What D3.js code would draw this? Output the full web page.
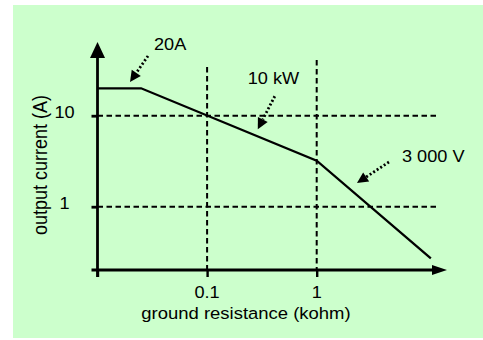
<!DOCTYPE html>
<html lang="en">
<head>
<meta charset="UTF-8">
<title>Output current vs ground resistance</title>
<script src="https://d3js.org/d3.v7.min.js"></script>
<style>
    body { margin: 0; background: #fff; }
    svg { display: block; }
    text { font-family: Arial, "Liberation Sans", sans-serif; fill: #000; }
    .grid { stroke: #000; stroke-width: 2px; stroke-dasharray: 5.5,3.5; fill: none; }
    .axis-line { stroke: #000; stroke-width: 2.8px; fill: none; }
    .curve { stroke: #000; stroke-width: 2.3px; fill: none; }
    .pointer { stroke: #000; stroke-width: 2.8px; stroke-dasharray: 2,2.2; fill: none; }
</style>
</head>
<body>
<svg width="483" height="340"></svg>
<script>
// resistance (kohm) and current (A) along the limit curve
const resistance = [0.01, 0.025, 1, 11];
const current = [20, 20, 3.2, 0.27];

const xTicks = [0.1, 1];
const xTickLabels = ["0.1", "1"];
const yTicks = [10, 1];
const yTickLabels = ["10", "1"];

const notes = ["20A", "10 kW", "3 000 V"];
const noteR = [0.0198, 0.29, 2.33];
const noteI = [23.5, 7.1, 1.82];

const svg = d3.select("svg");
svg.append("rect").attr("x", 13).attr("y", 5).attr("width", 470).attr("height", 333)
    .attr("fill", "#ccffcc");

// log scales, one decade is ~110px across and ~91px up
const x = d3.scaleLog().domain([0.01, 1]).range([97.5, 316.7]);
const y = d3.scaleLog().domain([1, 10]).range([206.7, 115.7]);

const x0 = x(0.01), yBase = 270;
const xEnd = 447, yTop = 42;
const stretch = 1.1;   // picture is a bit wider than tall

// dashed grid
const g = svg.append("g");
yTicks.forEach(v => {
    g.append("line").attr("class", "grid")
        .attr("x1", x0).attr("x2", 437).attr("y1", y(v)).attr("y2", y(v));
});
const gridTop = [67, 60];
xTicks.forEach((v, i) => {
    g.append("line").attr("class", "grid")
        .attr("x1", x(v)).attr("x2", x(v)).attr("y1", gridTop[i]).attr("y2", yBase);
});

// ticks through d3 axes (domain path removed, drawn by hand with arrows)
const xAxis = svg.append("g").attr("transform", `translate(0,${yBase})`)
    .call(d3.axisBottom(x).tickValues([0.01, ...xTicks]).tickSize(7).tickFormat(""));
xAxis.select(".domain").remove();
xAxis.selectAll(".tick line").attr("stroke", "#000").attr("stroke-width", 2.4);

const yAxis = svg.append("g").attr("transform", `translate(${x0},0)`)
    .call(d3.axisLeft(y).tickValues(yTicks).tickSize(6).tickFormat(""));
yAxis.select(".domain").remove();
yAxis.selectAll(".tick line").attr("stroke", "#000").attr("stroke-width", 2.8);

// axis lines with arrow heads
svg.append("line").attr("class", "axis-line")
    .attr("x1", x0).attr("x2", x0).attr("y1", yBase + 7).attr("y2", yTop + 12);
svg.append("path").attr("fill", "#000")
    .attr("d", `M${x0},${yTop} L${x0 - 7.5},${yTop + 16} L${x0 + 7.5},${yTop + 16} Z`);
svg.append("line").attr("class", "axis-line")
    .attr("x1", x0 - 6).attr("x2", xEnd - 10).attr("y1", yBase).attr("y2", yBase);
svg.append("path").attr("fill", "#000")
    .attr("d", `M${xEnd},${yBase} L${xEnd - 15},${yBase - 5} L${xEnd - 15},${yBase + 5} Z`);

// the limit curve
const line = d3.line().x(d => x(d[0])).y(d => y(d[1]));
svg.append("path").attr("class", "curve")
    .attr("d", line(d3.zip(resistance, current)));

function label(txt, px, py, size, anchor) {
    return svg.append("text")
        .attr("transform", `translate(${px},${py}) scale(${stretch},1)`)
        .attr("text-anchor", anchor || "start")
        .attr("font-size", size)
        .text(txt);
}

// tick labels
xTicks.forEach((v, i) => label(xTickLabels[i], x(v), 298, 16.5, "middle"));
yTicks.forEach((v, i) => label(yTickLabels[i], 64.5, y(v) + 2.6, 16.5, "middle"));

// axis titles
label("ground resistance (kohm)", 246, 319, 16.8, "middle");
svg.append("text")
    .attr("transform", `translate(47,165) rotate(-90) scale(1,${stretch})`)
    .attr("text-anchor", "middle").attr("font-size", 18)
    .text("output current (A)");

// dotted pointers: tail offset and text offset from the tip, in px
const tailOff = [[18, -26], [17, -33], [32, -21]];
const textOff = [[24, -32], [-10, -45], [45, 0]];
notes.forEach((t, i) => {
    const tx = x(noteR[i]), ty = y(noteI[i]);
    const sx = tx + tailOff[i][0], sy = ty + tailOff[i][1];
    const ang = Math.atan2(ty - sy, tx - sx);
    const len = 11, half = 5.5;
    const bx = tx - len * Math.cos(ang), by = ty - len * Math.sin(ang);
    svg.append("line").attr("class", "pointer")
        .attr("x1", sx).attr("y1", sy).attr("x2", bx).attr("y2", by);
    svg.append("path").attr("fill", "#000")
        .attr("d", `M${tx},${ty} L${bx + half * Math.sin(ang)},${by - half * Math.cos(ang)} ` +
                   `L${bx - half * Math.sin(ang)},${by + half * Math.cos(ang)} Z`);
    const lx = tx + textOff[i][0];
    const ly = i === 2 ? sy : ty + textOff[i][1];
    label(t, lx, ly, 16.5);
});
</script>
</body>
</html>
